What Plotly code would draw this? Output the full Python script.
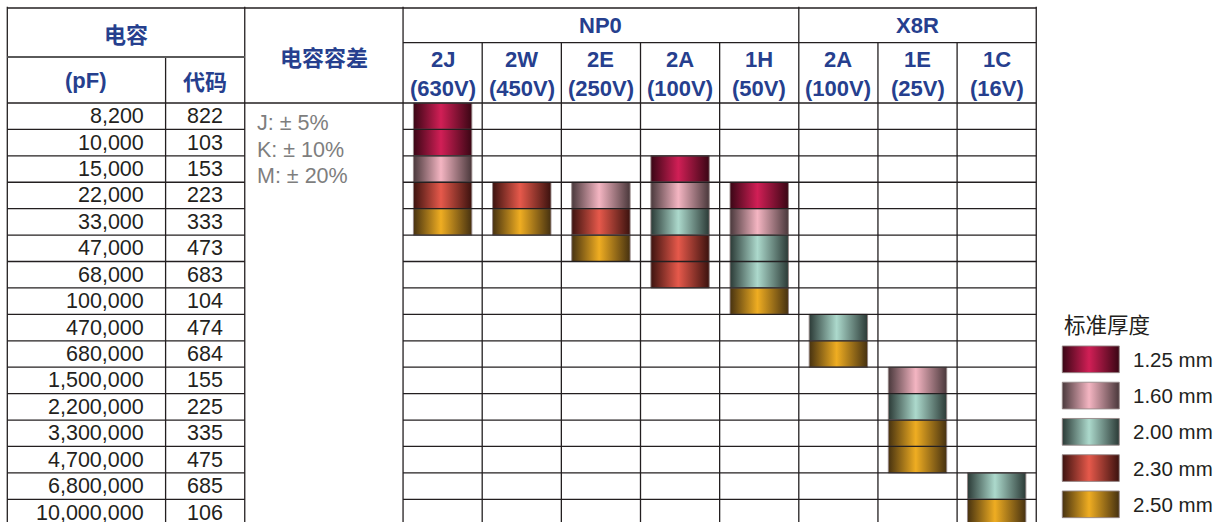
import plotly.graph_objects as go

# ---------------- data ----------------
cap_pf = ["8,200", "10,000", "15,000", "22,000", "33,000", "47,000", "68,000", "100,000",
          "470,000", "680,000", "1,500,000", "2,200,000", "3,300,000", "4,700,000",
          "6,800,000", "10,000,000"]
cap_codes = ["822", "103", "153", "223", "333", "473", "683", "104",
             "474", "684", "155", "225", "335", "475", "685", "106"]
tolerances = ["J: ± 5%", "K: ± 10%", "M: ± 20%"]
groups = ["NP0", "X8R"]
group_sizes = [5, 3]
voltage_codes = ["2J", "2W", "2E", "2A", "1H", "2A", "1E", "1C"]
voltage_labels = ["(630V)", "(450V)", "(250V)", "(100V)", "(50V)", "(100V)", "(25V)", "(16V)"]
thickness_values = [1.25, 1.60, 2.00, 2.30, 2.50]
thickness_labels = ["1.25 mm", "1.60 mm", "2.00 mm", "2.30 mm", "2.50 mm"]
legend_title = "标准厚度"
header_cap = "电容"
header_pf = "(pF)"
header_code = "代码"
header_tol = "电容容差"

N = None
# rows = capacitance, columns = voltage columns (2J,2W,2E,2A,1H | 2A,1E,1C)
thickness = [
    [1.25, N, N, N, N, N, N, N],
    [1.25, N, N, N, N, N, N, N],
    [1.60, N, N, 1.25, N, N, N, N],
    [2.30, 2.30, 1.60, 1.60, 1.25, N, N, N],
    [2.50, 2.50, 2.30, 2.00, 1.60, N, N, N],
    [N, N, 2.50, 2.30, 2.00, N, N, N],
    [N, N, N, 2.30, 2.00, N, N, N],
    [N, N, N, N, 2.50, N, N, N],
    [N, N, N, N, N, 2.00, N, N],
    [N, N, N, N, N, 2.50, N, N],
    [N, N, N, N, N, N, 1.60, N],
    [N, N, N, N, N, N, 2.00, N],
    [N, N, N, N, N, N, 2.50, N],
    [N, N, N, N, N, N, 2.50, N],
    [N, N, N, N, N, N, N, 2.00],
    [N, N, N, N, N, N, N, 2.50],
]

# ---------------- styles ----------------
gradients = {
    1.25: ["#3a0615", "#d11f56", "#3a0614"],
    1.60: ["#4a393c", "#f4b5c2", "#4a383b"],
    2.00: ["#2b3a36", "#acd9cc", "#2b3a36"],
    2.30: ["#3d130f", "#e6594b", "#3b120e"],
    2.50: ["#473210", "#efad22", "#463110"],
}
BLUE = "#263f8e"
INK = "#231f20"
GRAY = "#7e7e7e"
LAT = "Liberation Sans, Arial, Noto Sans CJK SC, sans-serif"
CJK = "Noto Sans CJK SC, Liberation Sans, sans-serif"

# geometry in table units (x: one voltage column, y: one row)
left_widths = [2, 1, 2]
n_rows = len(cap_pf)
n_volt = len(voltage_codes)
Y_TOP = -3.596
Y_GROUP = -2.282
Y_CAPSPLIT = -1.741
x_edges = [0]
for w in left_widths:
    x_edges.append(x_edges[-1] + w)
v0 = x_edges[-1]
x_right = v0 + n_volt

fig = go.Figure()

def colorscale(c):
    return [[0, c[0]], [0.47, c[1]], [1, c[2]]]

# ---------------- cylinders ----------------
half = 0.369
for r, row in enumerate(thickness):
    for c, t in enumerate(row):
        if t is None:
            continue
        xc = v0 + c + 0.5
        xs = [xc - half, xc + half, xc + half, xc - half, xc - half]
        ys = [r, r, r + 1, r + 1, r]
        fig.add_trace(go.Scatter(
            x=xs, y=ys, mode="lines", fill="toself",
            fillgradient=dict(type="horizontal", colorscale=colorscale(gradients[t])),
            line=dict(color="rgba(150,135,135,0.9)", width=1),
            hoverinfo="skip", showlegend=False))

# ---------------- grid ----------------
gx, gy = [], []
def seg(x0, y0, x1, y1):
    gx.extend([x0, x1, None]); gy.extend([y0, y1, None])

bottom = n_rows
seg(0, Y_TOP, x_right, Y_TOP)
seg(v0, Y_GROUP, x_right, Y_GROUP)
seg(0, 0, x_right, 0)
for r in range(1, n_rows + 1):
    seg(0, r, x_edges[2], r)
    seg(v0, r, x_right, r)
for xe in [0, x_edges[2], x_edges[3]]:
    seg(xe, Y_TOP - 0.05, xe, bottom)
seg(x_edges[1], Y_CAPSPLIT, x_edges[1], bottom)
gstart = v0
for gsz in group_sizes:
    for k in range(1, gsz):
        seg(gstart + k, Y_GROUP, gstart + k, bottom)
    gstart += gsz
    seg(gstart, Y_TOP - 0.05, gstart, bottom)

fig.add_trace(go.Scatter(x=gx, y=gy, mode="lines",
                         line=dict(color=INK, width=1.3),
                         hoverinfo="skip", showlegend=False))
fig.add_trace(go.Scatter(x=[0, x_edges[2]], y=[Y_CAPSPLIT, Y_CAPSPLIT], mode="lines",
                         line=dict(color="#5a5a5a", width=2.2),
                         hoverinfo="skip", showlegend=False))

# ---------------- text ----------------
ann = []
def text(x, y, s, size, color, family, xanchor="center", bold=False):
    ann.append(dict(x=x, y=y, xref="x", yref="y", text=(f"<b>{s}</b>" if bold else s),
                    showarrow=False, xanchor=xanchor, yanchor="middle",
                    font=dict(size=size, color=color, family=family)))

text(x_edges[1] / 2 + 0.5, (Y_TOP + Y_CAPSPLIT) / 2, header_cap, 22, BLUE, CJK, bold=True)
text(x_edges[1] / 2, Y_CAPSPLIT / 2, header_pf, 22, BLUE, LAT, bold=True)
text((x_edges[1] + x_edges[2]) / 2, Y_CAPSPLIT / 2, header_code, 22, BLUE, CJK, bold=True)
text((x_edges[2] + x_edges[3]) / 2, Y_TOP / 2, header_tol, 22, BLUE, CJK, bold=True)
gstart = v0
for g, gsz in zip(groups, group_sizes):
    text(gstart + gsz / 2, (Y_TOP + Y_GROUP) / 2, g, 22, BLUE, LAT, bold=True)
    gstart += gsz
for c in range(n_volt):
    text(v0 + c + 0.5, -1.63, voltage_codes[c], 22, BLUE, LAT, bold=True)
    text(v0 + c + 0.5, -0.555, voltage_labels[c], 22, BLUE, LAT, bold=True)

for r in range(n_rows):
    text(x_edges[1] - 0.245, r + 0.5, cap_pf[r], 21.5, INK, LAT, xanchor="right")
    text((x_edges[1] + x_edges[2]) / 2, r + 0.5, cap_codes[r], 21.5, INK, LAT)

for i, t in enumerate(tolerances):
    text(x_edges[2] + 0.135, 0.76 + 1.01 * i, t, 21.5, GRAY, LAT, xanchor="left")

# ---------------- legend ----------------
LX0, LX1 = 13.329, 14.049
LY0, LSTEP, LH = 9.197, 1.372, 1.01
text(LX0, LY0 - 0.85, legend_title, 21.5, INK, CJK, xanchor="left")
for i, (tv, tl) in enumerate(zip(thickness_values, thickness_labels)):
    y0 = LY0 + i * LSTEP
    fig.add_trace(go.Scatter(
        x=[LX0, LX1, LX1, LX0, LX0], y=[y0, y0, y0 + LH, y0 + LH, y0],
        mode="lines", fill="toself",
        fillgradient=dict(type="horizontal", colorscale=colorscale(gradients[tv])),
        line=dict(color="rgba(150,135,135,0.9)", width=1),
        hoverinfo="skip", showlegend=False))
    text(14.193, y0 + LH / 2, tl, 20.5, INK, LAT, xanchor="left")

UX = 79.15  # px per column unit
UY = 26.42  # px per row unit
fig.update_layout(
    width=1220, height=522, autosize=False,
    margin=dict(l=0, r=0, t=0, b=0, pad=0),
    paper_bgcolor="white", plot_bgcolor="white",
    annotations=ann, showlegend=False,
    xaxis=dict(range=[-7.3 / UX, (1220 - 7.3) / UX], visible=False, fixedrange=True),
    yaxis=dict(range=[(522 - 103) / UY, -103 / UY], visible=False, fixedrange=True),
)
fig.write_html("out.html", config={"displayModeBar": False},
               post_script="document.body.style.margin='0';document.body.style.overflow='hidden';")
